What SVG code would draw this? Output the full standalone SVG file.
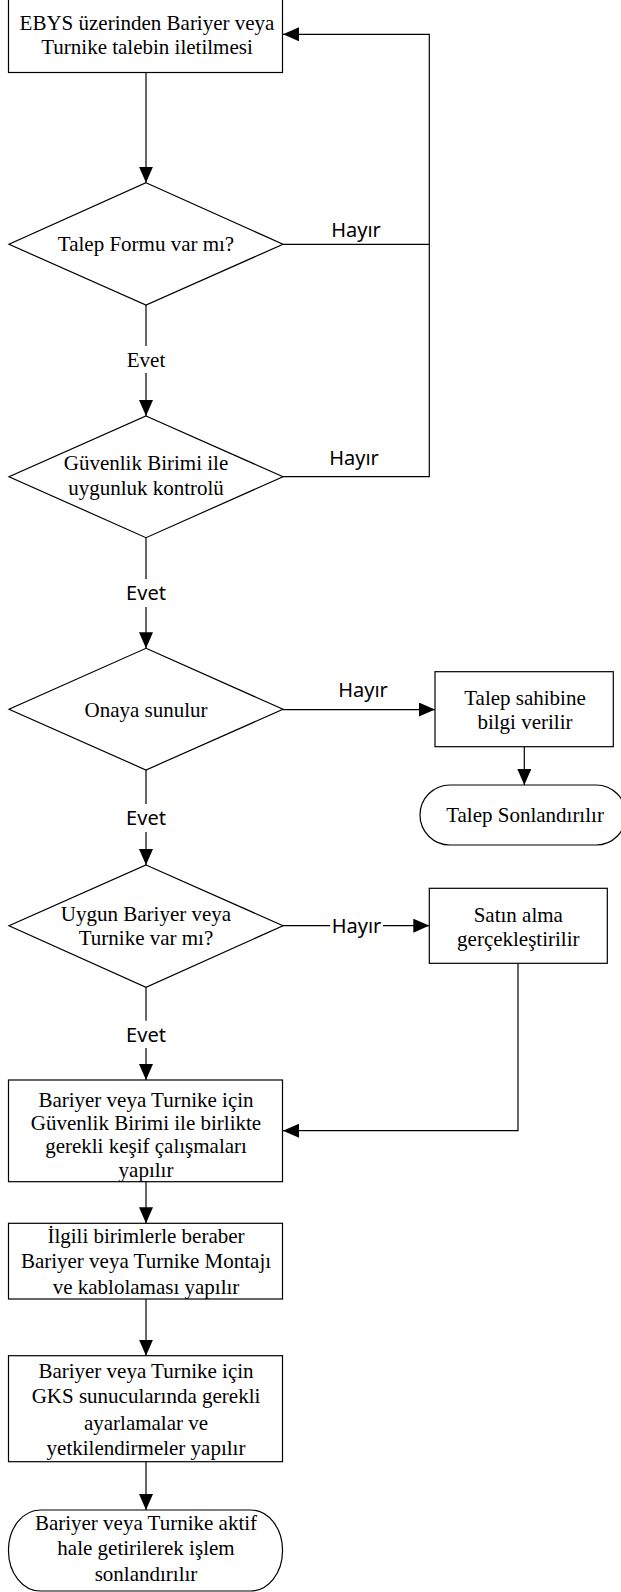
<svg xmlns="http://www.w3.org/2000/svg" width="621" height="1592" viewBox="0 0 621 1592">
<defs>
<style>
.n{fill:#fff;stroke:#000;stroke-width:1.2}
.t{font-family:"Liberation Serif","Times New Roman",serif;font-size:21px;fill:#000;text-anchor:middle}
.s{font-family:"Noto Sans","Open Sans",sans-serif;font-size:20px;fill:#000;text-anchor:middle}
.c{fill:none;stroke:#000;stroke-width:1.2}
.a{marker-end:url(#arr)}
</style>
<marker id="arr" markerWidth="16" markerHeight="14" refX="16" refY="7" orient="auto" markerUnits="userSpaceOnUse"><path d="M0,0 L16,7 L0,14 z" fill="#000"/></marker>
</defs>
<rect width="621" height="1592" fill="#fff"/>
<g id="connectors">
<path class="c a" d="M146,72.5 V182.7"/>
<path class="c a" d="M283,244.3 H429.3 V34.3 H283"/>
<path class="c" d="M283,476.7 H429.3 V244.3"/>
<path class="c" d="M146,305 V346"/>
<path class="c a" d="M146,373 V416"/>
<path class="c" d="M146,537.7 V579"/>
<path class="c a" d="M146,607 V648.3"/>
<path class="c a" d="M283,709.6 H435"/>
<path class="c a" d="M524.3,746.7 V785"/>
<path class="c" d="M146,770 V804"/>
<path class="c a" d="M146,832 V865"/>
<path class="c" d="M283,925.7 H330"/>
<path class="c a" d="M383,925.7 H429.3"/>
<path class="c a" d="M518,963.3 V1130.7 H283"/>
<path class="c" d="M146,987.3 V1020.7"/>
<path class="c a" d="M146,1048 V1080"/>
<path class="c a" d="M146,1181.7 V1223.3"/>
<path class="c a" d="M146,1299 V1355.7"/>
<path class="c a" d="M146,1461.7 V1510"/>
<text class="s" x="356" y="237.3">Hayır</text>
<text class="s" x="354" y="465">Hayır</text>
<text class="s" x="363" y="697.3">Hayır</text>
<text class="s" x="356.5" y="932.5">Hayır</text>
<text class="t" x="146" y="366.7">Evet</text>
<text class="s" x="146" y="600">Evet</text>
<text class="s" x="146" y="825">Evet</text>
<text class="s" x="146" y="1041.7">Evet</text>
</g>
<g id="n1">
<rect class="n" x="8.5" y="-2" width="274" height="74.5"/>
<text class="t" x="147" y="30">EBYS üzerinden Bariyer veya</text>
<text class="t" x="147" y="54">Turnike talebin iletilmesi</text>
</g>
<g id="d1">
<polygon class="n" points="146,182.7 283,244.3 146,305 9,244.3"/>
<text class="t" x="146" y="251">Talep Formu var mı?</text>
</g>
<g id="d2">
<polygon class="n" points="146,416 283,476.7 146,537.7 9,476.7"/>
<text class="t" x="146" y="470">Güvenlik Birimi ile</text>
<text class="t" x="146" y="495">uygunluk kontrolü</text>
</g>
<g id="d3">
<polygon class="n" points="146,648.3 283,709.3 146,770 9,709.3"/>
<text class="t" x="146" y="716.7">Onaya sunulur</text>
</g>
<g id="n2">
<rect class="n" x="435" y="671.7" width="178.3" height="75"/>
<text class="t" x="525" y="705">Talep sahibine</text>
<text class="t" x="525" y="729.3">bilgi verilir</text>
</g>
<g id="t1">
<rect class="n" x="420" y="785" width="206" height="60" rx="30" ry="30"/>
<text class="t" x="525" y="822">Talep Sonlandırılır</text>
</g>
<g id="d4">
<polygon class="n" points="146,865 283,925.7 146,987.3 9,925.7"/>
<text class="t" x="146" y="920.5">Uygun Bariyer veya</text>
<text class="t" x="146" y="945">Turnike var mı?</text>
</g>
<g id="n3">
<rect class="n" x="429.3" y="888.3" width="178" height="75"/>
<text class="t" x="518.3" y="921.7">Satın alma</text>
<text class="t" x="518.3" y="945.5">gerçekleştirilir</text>
</g>
<g id="n4">
<rect class="n" x="8.5" y="1080" width="274" height="101.7"/>
<text class="t" x="146" y="1106.5">Bariyer veya Turnike için</text>
<text class="t" x="146" y="1129.5">Güvenlik Birimi ile birlikte</text>
<text class="t" x="146" y="1152.5">gerekli keşif çalışmaları</text>
<text class="t" x="146" y="1176.5">yapılır</text>
</g>
<g id="n5">
<rect class="n" x="8.5" y="1223.3" width="274" height="75.7"/>
<text class="t" x="146" y="1243.3">İlgili birimlerle beraber</text>
<text class="t" x="146" y="1268.3">Bariyer veya Turnike Montajı</text>
<text class="t" x="146" y="1294">ve kablolaması yapılır</text>
</g>
<g id="n6">
<rect class="n" x="8.5" y="1355.7" width="274" height="106"/>
<text class="t" x="146" y="1378.3">Bariyer veya Turnike için</text>
<text class="t" x="146" y="1403.3">GKS sunucularında gerekli</text>
<text class="t" x="146" y="1429.5">ayarlamalar ve</text>
<text class="t" x="146" y="1455">yetkilendirmeler yapılır</text>
</g>
<g id="t2">
<rect class="n" x="8.5" y="1510" width="274" height="81" rx="32" ry="40"/>
<text class="t" x="146" y="1530">Bariyer veya Turnike aktif</text>
<text class="t" x="146" y="1555">hale getirilerek işlem</text>
<text class="t" x="146" y="1580.5">sonlandırılır</text>
</g>
</svg>
